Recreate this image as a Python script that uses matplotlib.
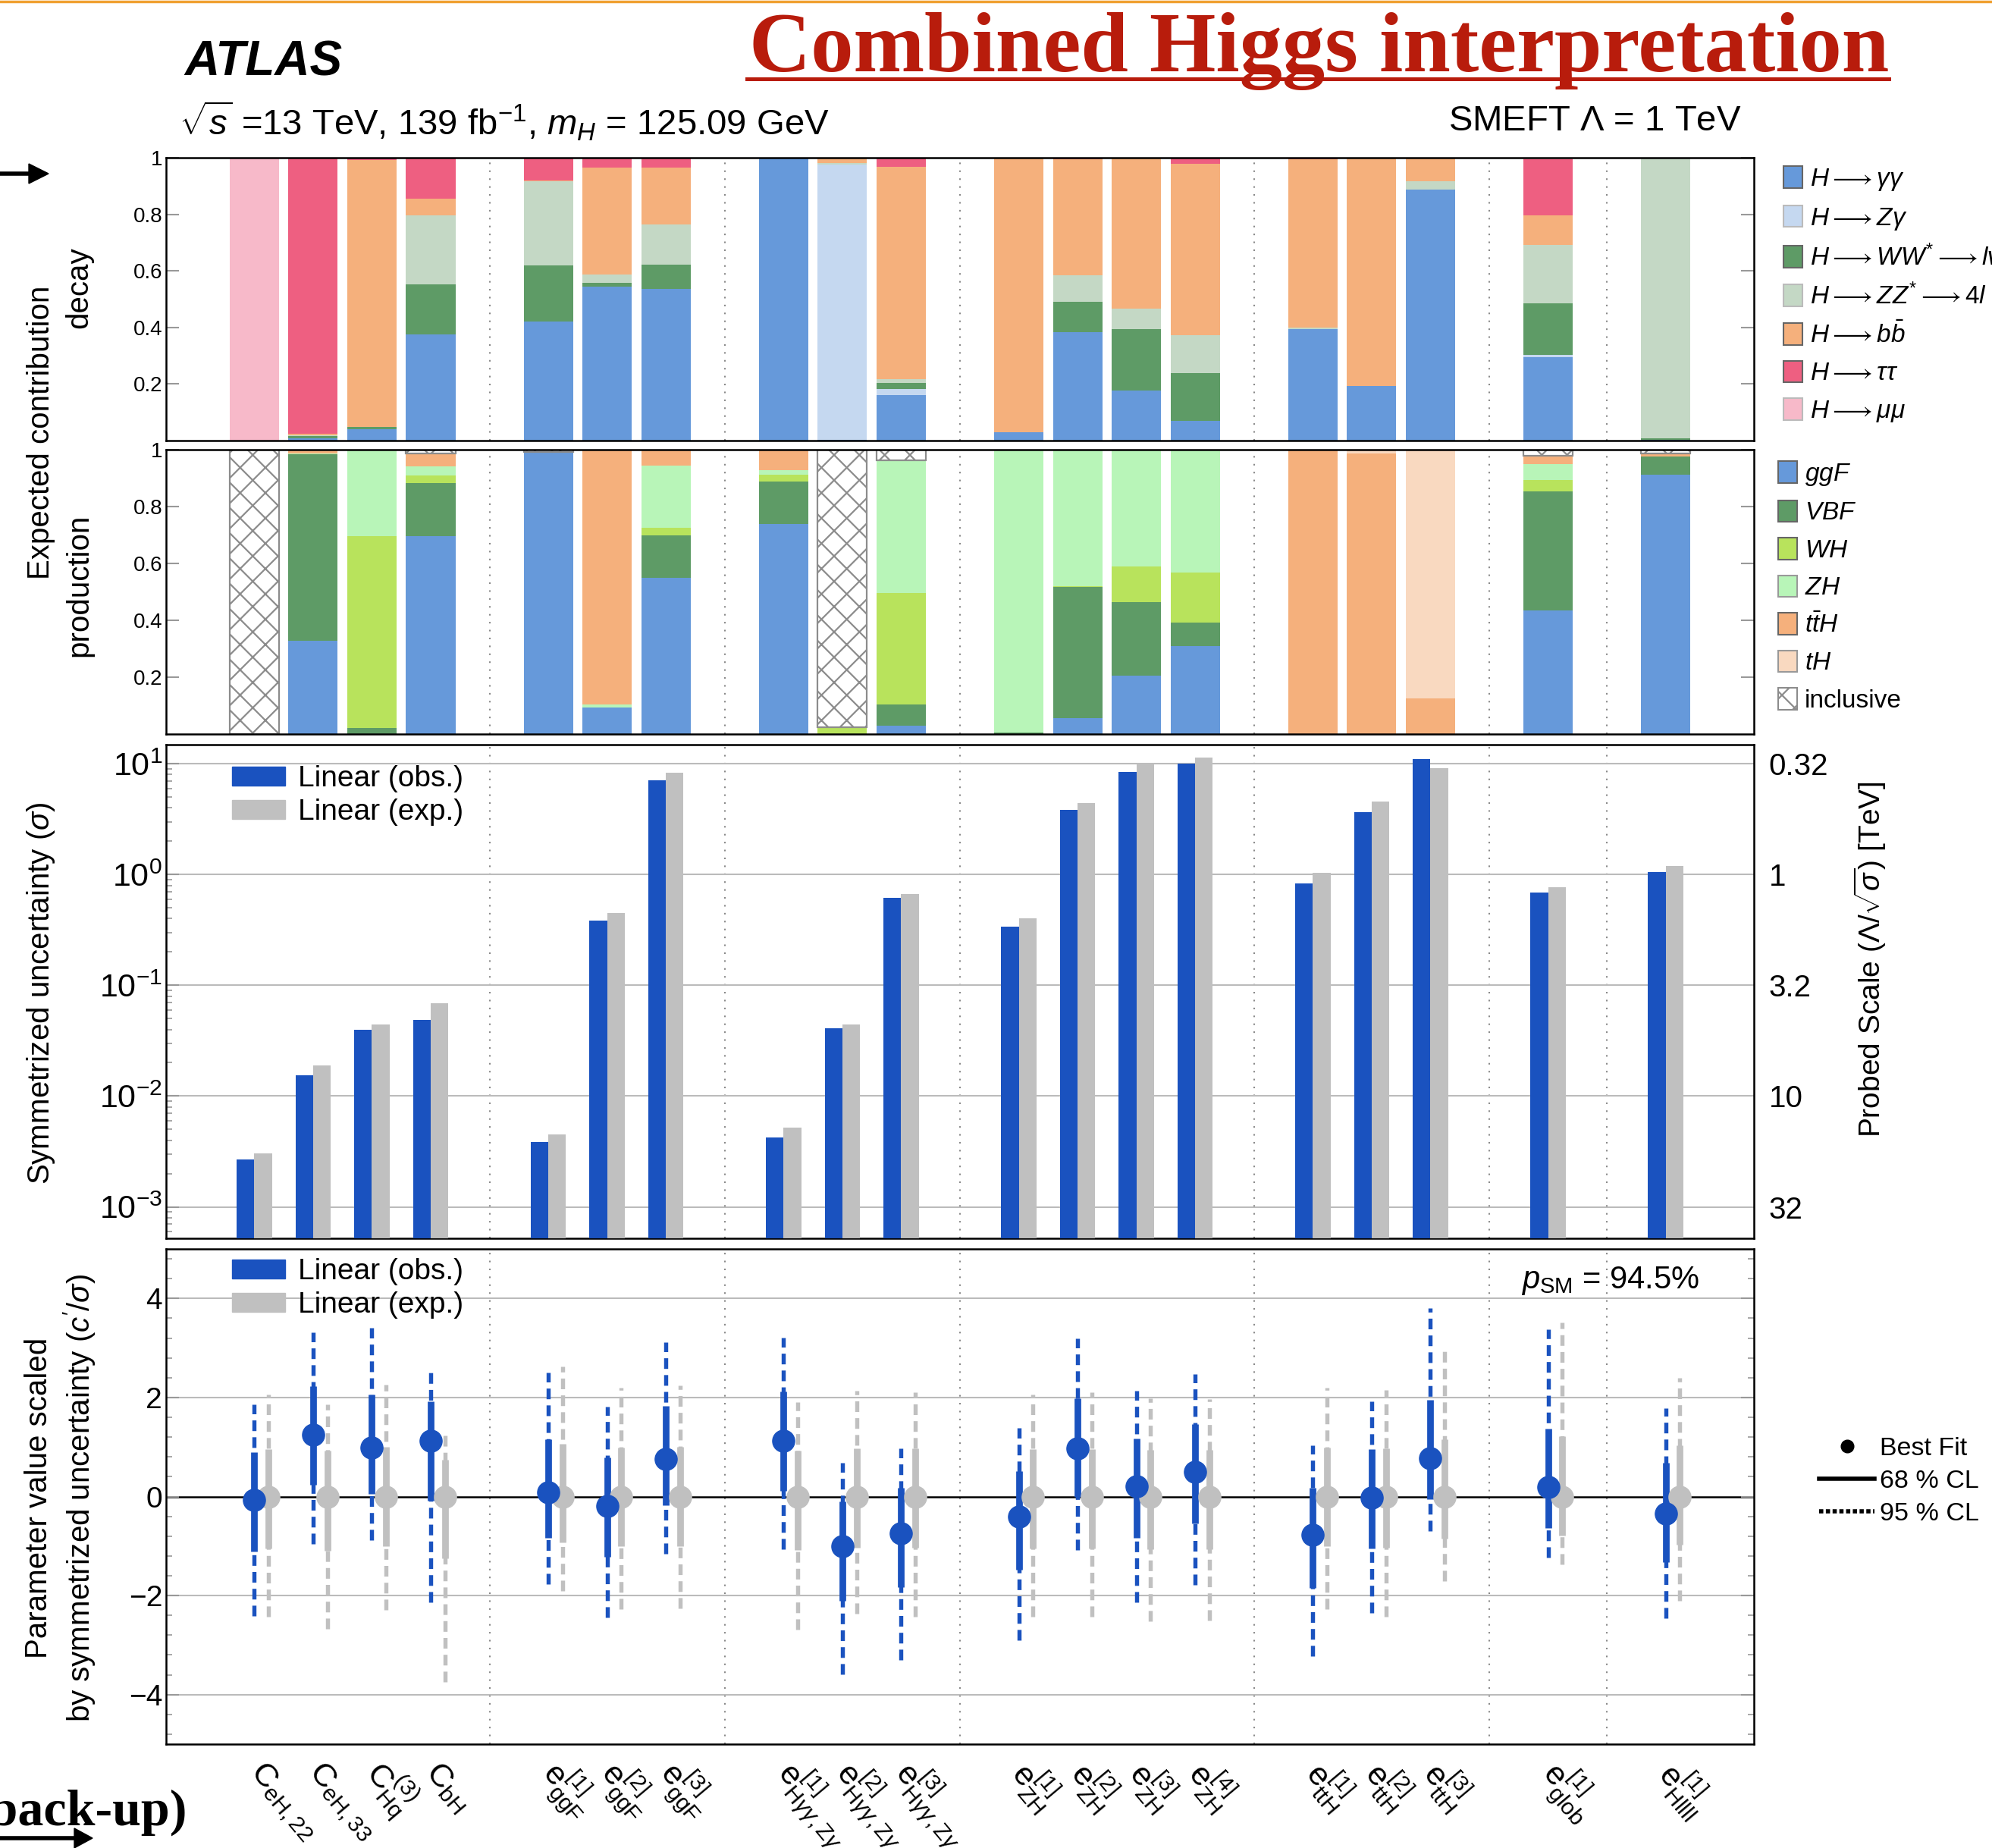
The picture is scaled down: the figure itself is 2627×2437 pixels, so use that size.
import numpy as np
import matplotlib.pyplot as plt
from matplotlib.patches import Patch
from matplotlib.lines import Line2D

plt.rcParams['font.family'] = ['Liberation Sans', 'DejaVu Sans']
plt.rcParams['mathtext.fontset'] = 'custom'
plt.rcParams['mathtext.rm'] = 'Liberation Sans'
plt.rcParams['mathtext.it'] = 'Liberation Sans:italic'
plt.rcParams['mathtext.bf'] = 'Liberation Sans:bold'
plt.rcParams['mathtext.fallback'] = 'cm'
plt.rcParams['hatch.color'] = '#8c8c8c'
plt.rcParams['hatch.linewidth'] = 1.6

# ---- data ----
group_sizes = [4, 3, 3, 4, 3, 1, 1]

labels = [r'$\mathrm{C}_{\mathrm{eH,22}}$', r'$\mathrm{C}_{\mathrm{eH,33}}$',
          r'$\mathrm{C}^{(3)}_{\mathrm{Hq}}$', r'$\mathrm{C}_{\mathrm{bH}}$',
          r'$\mathrm{e}^{[1]}_{\mathrm{ggF}}$', r'$\mathrm{e}^{[2]}_{\mathrm{ggF}}$',
          r'$\mathrm{e}^{[3]}_{\mathrm{ggF}}$',
          r'$\mathrm{e}^{[1]}_{\mathrm{H}\gamma\gamma,\mathrm{Z}\gamma}$',
          r'$\mathrm{e}^{[2]}_{\mathrm{H}\gamma\gamma,\mathrm{Z}\gamma}$',
          r'$\mathrm{e}^{[3]}_{\mathrm{H}\gamma\gamma,\mathrm{Z}\gamma}$',
          r'$\mathrm{e}^{[1]}_{\mathrm{ZH}}$', r'$\mathrm{e}^{[2]}_{\mathrm{ZH}}$',
          r'$\mathrm{e}^{[3]}_{\mathrm{ZH}}$', r'$\mathrm{e}^{[4]}_{\mathrm{ZH}}$',
          r'$\mathrm{e}^{[1]}_{\mathrm{ttH}}$', r'$\mathrm{e}^{[2]}_{\mathrm{ttH}}$',
          r'$\mathrm{e}^{[3]}_{\mathrm{ttH}}$', r'$\mathrm{e}^{[1]}_{\mathrm{glob}}$',
          r'$\mathrm{e}^{[1]}_{\mathrm{Hllll}}$']

# decay fractions
dec_yy = [0, 0.008, 0.041, 0.375, 0.422, 0.545, 0.536, 1.0, 0.003, 0.161, 0.029, 0.383, 0.178, 0.071, 0.395, 0.192, 0.888, 0.295, 0.004]
dec_zy = [0, 0, 0, 0, 0, 0, 0, 0, 0.973, 0.021, 0, 0, 0, 0, 0, 0, 0, 0.008, 0]
dec_ww = [0, 0.008, 0.007, 0.178, 0.198, 0.013, 0.086, 0, 0, 0.022, 0, 0.108, 0.215, 0.167, 0, 0, 0, 0.183, 0.005]
dec_zz = [0, 0.003, 0, 0.242, 0.297, 0.030, 0.142, 0, 0.004, 0.013, 0, 0.093, 0.073, 0.134, 0.005, 0, 0.028, 0.207, 0.991]
dec_bb = [0, 0.004, 0.944, 0.059, 0.003, 0.378, 0.200, 0, 0.020, 0.750, 0.971, 0.411, 0.534, 0.607, 0.594, 0.808, 0.080, 0.104, 0]
dec_tt = [0, 0.977, 0.008, 0.146, 0.080, 0.034, 0.036, 0, 0, 0.034, 0, 0.005, 0, 0.021, 0.006, 0, 0.004, 0.198, 0]
dec_mm = [1.0, 0, 0, 0, 0, 0, 0, 0, 0, 0, 0, 0, 0, 0, 0, 0, 0, 0.005, 0]

# production fractions
prod_ggf = [0, 0.329, 0, 0.696, 0.991, 0.093, 0.549, 0.739, 0, 0.028, 0, 0.057, 0.204, 0.309, 0, 0, 0, 0.436, 0.911]
prod_vbf = [0, 0.654, 0.021, 0.186, 0, 0, 0.150, 0.149, 0, 0.077, 0.004, 0.460, 0.259, 0.082, 0, 0, 0, 0.417, 0.064]
prod_wh = [0, 0.002, 0.676, 0.027, 0, 0, 0.026, 0.025, 0.020, 0.391, 0, 0.003, 0.126, 0.177, 0, 0, 0, 0.040, 0]
prod_zh = [0, 0.002, 0.303, 0.033, 0, 0.010, 0.218, 0.015, 0.005, 0.468, 0.996, 0.477, 0.411, 0.432, 0, 0, 0, 0.056, 0]
prod_tth = [0, 0.013, 0, 0.044, 0, 0.897, 0.057, 0.072, 0, 0, 0, 0.003, 0, 0, 1.0, 0.987, 0.125, 0.031, 0.011]
prod_th = [0, 0, 0, 0, 0, 0, 0, 0, 0, 0, 0, 0, 0, 0, 0, 0.013, 0.875, 0, 0]
prod_incl = [1.0, 0, 0, 0.014, 0.009, 0, 0, 0, 0.975, 0.036, 0, 0, 0, 0, 0, 0, 0, 0.020, 0.014]

# symmetrized uncertainties
sig_obs = [2.66e-3, 0.0153, 0.0396, 0.049, 3.85e-3, 0.385, 7.1, 4.2e-3, 0.0407, 0.62, 0.34, 3.86, 8.5, 10.0, 0.83, 3.66, 11.1, 0.69, 1.05]
sig_exp = [3.04e-3, 0.0189, 0.044, 0.069, 4.5e-3, 0.45, 8.3, 5.2e-3, 0.044, 0.67, 0.40, 4.4, 10.0, 11.4, 1.03, 4.6, 9.2, 0.77, 1.2]

# scaled parameter values
obs_best = [-0.065, 1.245, 0.99, 1.12, 0.08, -0.19, 0.76, 1.13, -1.01, -0.74, -0.41, 0.97, 0.21, 0.50, -0.78, -0.03, 0.77, 0.19, -0.34]
obs68_hi = [0.90, 2.23, 2.06, 1.92, 1.16, 0.79, 1.83, 2.12, -0.10, 0.17, 0.52, 1.99, 1.17, 1.46, 0.17, 0.95, 1.95, 1.37, 0.68]
obs68_lo = [-1.11, 0.23, 0.05, -0.08, -0.83, -1.22, -0.17, 0.12, -2.10, -1.83, -1.48, -0.01, -0.83, -0.55, -1.84, -1.05, -0.06, -0.63, -1.33]
obs95_hi = [1.86, 3.32, 3.40, 2.51, 2.51, 1.81, 3.11, 3.21, 0.68, 0.98, 1.39, 3.19, 2.13, 2.48, 1.04, 1.92, 3.81, 3.37, 1.79]
obs95_lo = [-2.41, -0.95, -0.88, -2.13, -1.77, -2.45, -1.15, -1.06, -3.59, -3.30, -2.90, -1.08, -2.14, -1.79, -3.23, -2.35, -0.70, -1.24, -2.46]
exp_best = [0.0] * 19
exp68_hi = [0.95, 0.92, 1.0, 0.75, 1.07, 0.99, 1.0, 0.92, 0.97, 0.97, 0.95, 0.95, 0.94, 0.94, 0.99, 0.97, 1.15, 1.21, 1.04]
exp68_lo = [-1.05, -1.09, -1.0, -1.25, -0.93, -1.01, -1.0, -1.08, -1.03, -1.03, -1.05, -1.05, -1.06, -1.06, -1.01, -1.03, -0.85, -0.79, -0.97]
exp95_hi = [2.06, 1.86, 2.26, 1.28, 2.63, 2.20, 2.25, 1.90, 2.14, 2.10, 2.06, 2.11, 1.99, 1.97, 2.19, 2.15, 2.94, 3.52, 2.40]
exp95_lo = [-2.43, -2.67, -2.29, -3.74, -1.90, -2.28, -2.26, -2.68, -2.37, -2.42, -2.43, -2.42, -2.52, -2.50, -2.28, -2.42, -1.70, -1.37, -2.10]

p_sm = 94.5

# ---- layout ----
W, H = 2627, 2437
fig = plt.figure(figsize=(W / 100, H / 100), dpi=100)


def box(top, bottom):
    return [219 / W, 1 - bottom / H, (2313 - 219) / W, (bottom - top) / H]


pos = []
seps = []
x = 0
for g in group_sizes:
    pos += list(range(x, x + g))
    x += g
    seps.append(x)
    x += 1
pos = np.array(pos, dtype=float)
seps = seps[:-1]
xlim = (-1.5, 25.5)

ax1 = fig.add_axes(box(208, 581))
ax2 = fig.add_axes(box(593, 968))
ax3 = fig.add_axes(box(982, 1633))
ax4 = fig.add_axes(box(1647, 2300))

for ax in (ax1, ax2, ax3, ax4):
    ax.set_xlim(*xlim)
    for s in ax.spines.values():
        s.set_linewidth(1.8)
    for s in seps:
        ax.axvline(s, color='#8a8a8a', ls=(0, (1, 4)), lw=1.5, zorder=0)
    ax.set_xticks(pos)
    ax.tick_params(axis='x', length=0, labelbottom=False)
    ax.tick_params(axis='y', direction='in', length=12, width=1.5, color='#999999',
                   left=True, right=True, labelsize=20)

bw = 0.84
leg_kw = dict(frameon=False, fontsize=24, handlelength=0.75, handleheight=0.95,
              handletextpad=0.3, labelspacing=0.5, borderpad=0, borderaxespad=0)

# decay panel
dec_cols = ['#6699da', '#c5d8f0', '#5e9b66', '#c4d8c5', '#f5b07c', '#ee5f81', '#f7b9c9']
dec_labs = [r'$H \longrightarrow \gamma\gamma$', r'$H \longrightarrow Z\gamma$',
            r'$H \longrightarrow WW^{*} \longrightarrow l\nu l\nu$',
            r'$H \longrightarrow ZZ^{*} \longrightarrow 4l$',
            r'$H \longrightarrow b\bar{b}$', r'$H \longrightarrow \tau\tau$',
            r'$H \longrightarrow \mu\mu$']
bottom = np.zeros(len(pos))
for vals, c in zip([dec_yy, dec_zy, dec_ww, dec_zz, dec_bb, dec_tt, dec_mm], dec_cols):
    ax1.bar(pos, vals, bw, bottom=bottom, color=c, linewidth=0)
    bottom += np.array(vals)
ax1.set_ylim(0, 1)
ax1.set_yticks([0.2, 0.4, 0.6, 0.8, 1.0])
ax1.set_yticklabels(['0.2', '0.4', '0.6', '0.8', '1'])
h1 = [Patch(facecolor=c, edgecolor='#666666' if i in (0, 2, 4, 5) else '#bbbbbb', lw=1.5)
      for i, c in enumerate(dec_cols)]
ax1.legend(h1, dec_labs, loc='upper left', bbox_to_anchor=(1.0186, 0.97), **leg_kw)

# production panel
prod_cols = ['#6699da', '#5e9b66', '#b8e35c', '#b8f5b8', '#f5b07c', '#f9d9c0']
prod_labs = [r'$ggF$', r'$VBF$', r'$WH$', r'$ZH$', r'$t\bar{t}H$', r'$tH$', 'inclusive']
bottom = np.zeros(len(pos))
for vals, c in zip([prod_ggf, prod_vbf, prod_wh, prod_zh, prod_tth, prod_th], prod_cols):
    ax2.bar(pos, vals, bw, bottom=bottom, color=c, linewidth=0)
    bottom += np.array(vals)
ax2.bar(pos, prod_incl, bw, bottom=bottom, color='white', edgecolor='#8c8c8c', hatch='x', linewidth=1.6)
ax2.set_ylim(0, 1)
ax2.set_yticks([0.2, 0.4, 0.6, 0.8, 1.0])
ax2.set_yticklabels(['0.2', '0.4', '0.6', '0.8', '1'])
h2 = [Patch(facecolor=c, edgecolor='#666666' if i in (0, 1, 2, 4) else '#999999', lw=1.5)
      for i, c in enumerate(prod_cols)]
h2.append(Patch(facecolor='white', edgecolor='#8c8c8c', hatch='x', lw=1.5))
ax2.legend(h2, prod_labs, loc='upper left', bbox_to_anchor=(1.0153, 0.96), **leg_kw)

# uncertainty panel
blue = '#1a52bf'
grey = '#c0c0c0'
ax3.set_yscale('log')
ax3.bar(pos - 0.15, sig_obs, 0.3, bottom=1e-5, color=blue, linewidth=0, zorder=3)
ax3.bar(pos + 0.15, sig_exp, 0.3, bottom=1e-5, color=grey, linewidth=0, zorder=3)
ax3.set_ylim(5.2e-4, 14.9)
ax3.set_yticks([1e-3, 1e-2, 1e-1, 1e0, 1e1])
for v in [1e-3, 1e-2, 1e-1, 1e0, 1e1]:
    ax3.axhline(v, color='#bbbbbb', lw=1.5, zorder=1)
ax3.tick_params(axis='y', labelsize=31, which='major', color='#999999')
ax3.tick_params(axis='y', which='minor', direction='in', length=6, width=1.2, color='#999999',
                left=True, right=True)
ax3r = ax3.twinx()
ax3r.set_yscale('log')
ax3r.set_ylim(ax3.get_ylim())
ax3r.set_yticks([1e1, 1e0, 1e-1, 1e-2, 1e-3])
ax3r.set_yticklabels(['0.32', '1', '3.2', '10', '32'])
ax3r.minorticks_off()
ax3r.tick_params(axis='y', direction='in', length=0, labelsize=29, pad=14)
lin_kw = dict(frameon=False, fontsize=28, handlelength=1.8, handleheight=0.6,
              handletextpad=0.45, labelspacing=0.2, borderpad=0, borderaxespad=0)
ax3.legend([Patch(color=blue), Patch(color=grey)], ['Linear (obs.)', 'Linear (exp.)'],
           loc='upper left', bbox_to_anchor=(0.0415, 0.958), **lin_kw)

# parameter value panel
dash = (0, (2.6, 1.5))
off = 0.24
ax4.vlines(pos, obs95_lo, obs95_hi, colors=blue, linestyles=dash, lw=3.9, zorder=3)
ax4.vlines(pos + off, exp95_lo, exp95_hi, colors=grey, linestyles=dash, lw=3.9, zorder=2)
ax4.vlines(pos, obs68_lo, obs68_hi, colors=blue, lw=6.3, zorder=4)
ax4.vlines(pos + off, exp68_lo, exp68_hi, colors=grey, lw=6.3, zorder=3)
ax4.plot(pos + off, exp_best, 'o', ms=21, color=grey, zorder=5)
ax4.plot(pos, obs_best, 'o', ms=21, color=blue, zorder=6)
ax4.set_ylim(-5, 5)
ax4.set_yticks([-4, -2, 0, 2, 4])
ax4.set_yticklabels(['\u22124', '\u22122', '0', '2', '4'])
ax4.set_yticks(np.arange(-4.8, 5.0, 0.4), minor=True)
ax4.tick_params(axis='y', labelsize=28, color='#999999')
ax4.tick_params(axis='y', which='minor', direction='in', length=6, width=1.2, color='#999999',
                left=True, right=True)
for v in [-4, -2, 2, 4]:
    ax4.axhline(v, color='#bbbbbb', lw=1.5, zorder=1)
ax4.axhline(0, color='black', lw=1.8, zorder=1)
ax4.legend([Patch(color=blue), Patch(color=grey)], ['Linear (obs.)', 'Linear (exp.)'],
           loc='upper left', bbox_to_anchor=(0.0415, 0.981), **lin_kw)
ax4.text(0.9656, 0.935, r'$p_{\mathrm{SM}}$ = %.1f%%' % p_sm, transform=ax4.transAxes,
         fontsize=30, ha='right', va='center')

ax4.tick_params(axis='x', labelbottom=True, pad=22)
ax4.set_xticklabels(labels, fontsize=31, rotation=-50, ha='left', va='center',
                    rotation_mode='anchor')

fig.legend([Line2D([], [], marker='o', color='black', ls='none', ms=12),
            Line2D([], [], color='black', lw=4),
            Line2D([], [], color='black', lw=4, ls=(0, (1, 0.6)))],
           ['Best Fit', '68 % CL', '95 % CL'], loc='upper left',
           bbox_to_anchor=(2399 / W, 1 - 1895 / H), frameon=False, fontsize=24.5,
           handlelength=2.15, handletextpad=0.2, labelspacing=0.35, borderpad=0, borderaxespad=0)

# axis titles
fig.text(54 / W, 1 - 570 / H, 'Expected contribution', rotation=90, ha='center', va='center', fontsize=29)
fig.text(104 / W, 1 - 379 / H, 'decay', rotation=90, ha='center', va='center', fontsize=29)
fig.text(104 / W, 1 - 772 / H, 'production', rotation=90, ha='center', va='center', fontsize=29)
fig.text(54 / W, 1 - 1310 / H, r'Symmetrized uncertainty ($\sigma$)', rotation=90,
         ha='center', va='center', fontsize=29)
fig.text(2466 / W, 1 - 1265 / H, r'Probed Scale ($\Lambda/\sqrt{\sigma}$) [TeV]', rotation=90,
         ha='center', va='center', fontsize=28)
fig.text(80 / W, 1 - 1975 / H, 'Parameter value scaled\nby symmetrized uncertainty ($c^{\\prime}/\\sigma$)',
         rotation=90, ha='center', va='center', fontsize=29, linespacing=1.3)

# header
fig.add_artist(Line2D([0, 1], [1 - 1.5 / H, 1 - 1.5 / H], color='#f0a030', lw=2.5))
fig.text(243 / W, 1 - 82 / H, 'ATLAS', fontsize=46, fontweight='bold', fontstyle='italic',
         ha='left', va='center')
fig.text(236 / W, 1 - 160 / H, r'$\sqrt{s}$ =13 TeV, 139 fb$^{-1}$, $m_H$ = 125.09 GeV',
         fontsize=34, ha='left', va='center')
fig.text(2297 / W, 1 - 160 / H, r'SMEFT $\Lambda$ = 1 TeV', fontsize=34, ha='right', va='center')
fig.text(2491 / W, 1 - 94 / H, 'Combined Higgs interpretation', fontsize=81, fontweight='bold',
         family='Liberation Serif', color='#b81c0c', ha='right', va='baseline')
fig.add_artist(Line2D([985 / W, 2491 / W], [1 - 104 / H, 1 - 104 / H], color='#b81c0c', lw=3.6))

# side arrows
fig.add_artist(Line2D([0, 40 / W], [1 - 229 / H, 1 - 229 / H], color='black', lw=4))
fig.patches.append(plt.Polygon([[38 / W, 1 - 216 / H], [64 / W, 1 - 229 / H], [38 / W, 1 - 242 / H]],
                               closed=True, color='black', transform=fig.transFigure))
fig.text(246 / W, 1 - 2407 / H, '(back-up)', fontsize=49, fontweight='bold', family='Liberation Serif',
         ha='right', va='baseline')
fig.add_artist(Line2D([0, 100 / W], [1 - 2424 / H, 1 - 2424 / H], color='black', lw=4))
fig.patches.append(plt.Polygon([[98 / W, 1 - 2411 / H], [122 / W, 1 - 2424 / H], [98 / W, 1 - 2437 / H]],
                               closed=True, color='black', transform=fig.transFigure))

fig.savefig('out.png', dpi=100)
